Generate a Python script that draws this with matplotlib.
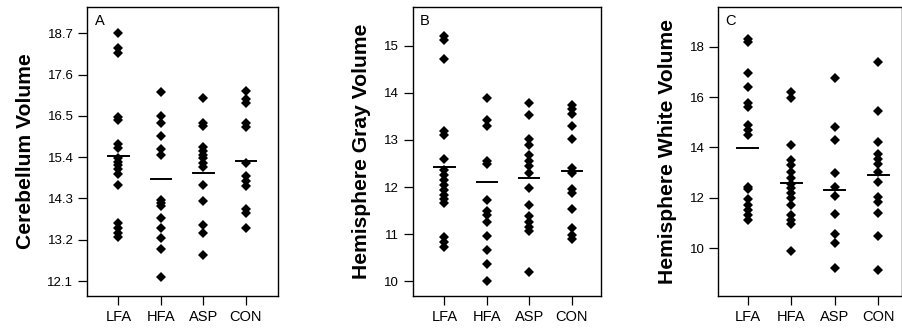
import matplotlib.pyplot as plt

plt.rcParams['font.family'] = ['Liberation Sans', 'DejaVu Sans']

groups = ['LFA', 'HFA', 'ASP', 'CON']

# Panel A - cerebellum
cereb_lfa = [18.7, 18.3, 18.18, 16.48, 16.39, 15.75, 15.64, 15.37, 15.28, 15.19,
             15.08, 14.95, 14.66, 13.64, 13.5, 13.39, 13.26]
cereb_hfa = [17.14, 16.5, 16.3, 15.96, 15.62, 15.45, 14.26, 14.17, 14.1, 13.77,
             13.5, 13.24, 12.95, 12.22]
cereb_asp = [16.97, 16.32, 16.22, 15.68, 15.56, 15.46, 15.37, 15.24, 15.15, 14.66,
             14.24, 13.59, 13.37, 12.79]
cereb_con = [17.17, 16.96, 16.85, 16.3, 16.2, 15.24, 14.9, 14.77, 14.63, 14.02,
             13.92, 13.5]
cereb_means = [15.43, 14.82, 14.99, 15.3]

# Panel B - hemisphere gray
gray_lfa = [15.2, 15.12, 14.71, 13.2, 13.1, 12.6, 12.36, 12.26, 12.15, 12.04,
            11.94, 11.83, 11.74, 11.66, 10.95, 10.84, 10.74]
gray_hfa = [13.88, 13.42, 13.3, 12.55, 12.48, 11.73, 11.5, 11.4, 11.27, 10.97,
            10.66, 10.38, 10.01]
gray_asp = [13.78, 13.54, 13.03, 12.9, 12.68, 12.55, 12.45, 12.3, 11.99, 11.63,
            11.39, 11.27, 11.16, 11.07, 10.2]
gray_con = [13.75, 13.65, 13.56, 13.3, 13.03, 12.4, 12.3, 11.96, 11.87, 11.53,
            11.14, 10.98, 10.91]
gray_means = [12.43, 12.1, 12.2, 12.35]

# Panel C - hemisphere white
white_lfa = [18.3, 18.2, 16.97, 16.41, 15.75, 15.62, 14.89, 14.7, 14.5, 12.45,
             12.34, 11.94, 11.72, 11.52, 11.32, 11.12]
white_hfa = [16.21, 15.95, 14.1, 13.5, 13.3, 13.04, 12.78, 12.55, 12.38, 12.18,
             11.98, 11.72, 11.32, 11.12, 10.95, 9.89]
white_asp = [16.74, 14.83, 14.3, 13.0, 12.44, 12.09, 11.35, 10.55, 10.2, 9.23]
white_con = [17.38, 15.46, 14.2, 13.73, 13.54, 13.33, 13.04, 12.64, 12.05, 11.85,
             11.41, 10.5, 9.14]
white_means = [13.99, 12.6, 12.31, 12.89]

panels = [
    dict(data=[cereb_lfa, cereb_hfa, cereb_asp, cereb_con], means=cereb_means,
         label='Cerebellum Volume', letter='A',
         ticks=[12.1, 13.2, 14.3, 15.4, 16.5, 17.6, 18.7], fmt='%.1f',
         ylim=(11.7, 19.4), xlim=(-0.73, 3.75),
         rect=[0.0967, 0.111, 0.2109, 0.868]),
    dict(data=[gray_lfa, gray_hfa, gray_asp, gray_con], means=gray_means,
         label='Hemisphere Gray Volume', letter='B',
         ticks=[10, 11, 12, 13, 14, 15], fmt='%d',
         ylim=(9.69, 15.82), xlim=(-0.75, 3.69),
         rect=[0.457, 0.111, 0.2085, 0.868]),
    dict(data=[white_lfa, white_hfa, white_asp, white_con], means=white_means,
         label='Hemisphere White Volume', letter='C',
         ticks=[10, 12, 14, 16, 18], fmt='%d',
         ylim=(8.11, 19.57), xlim=(-0.68, 3.55),
         rect=[0.7955, 0.111, 0.2034, 0.868]),
]

fig = plt.figure(figsize=(9.03, 3.33), dpi=100)

for p in panels:
    ax = fig.add_axes(p['rect'])
    for i, vals in enumerate(p['data']):
        ax.plot([i] * len(vals), vals, linestyle='none', marker='D',
                markersize=5, color='black', markeredgewidth=0)
        ax.plot([i - 0.24, i + 0.24], [p['means'][i]] * 2, color='black',
                linewidth=1.4)
    ax.set_xlim(*p['xlim'])
    ax.set_ylim(*p['ylim'])
    ax.set_xticks(range(len(groups)))
    ax.set_xticklabels(groups, fontsize=10.5)
    ax.set_yticks(p['ticks'])
    ax.set_yticklabels([p['fmt'] % t for t in p['ticks']], fontsize=9.5)
    ax.tick_params(direction='out', length=6.5, width=0.9, pad=3.5)
    for s in ax.spines.values():
        s.set_linewidth(1.0)
    ax.set_ylabel(p['label'], fontsize=15.2, fontweight='bold', labelpad=9)
    ax.text(0.04, 0.975, p['letter'], transform=ax.transAxes, fontsize=10.5,
            ha='left', va='top')

fig.savefig('out.png', dpi=100)
